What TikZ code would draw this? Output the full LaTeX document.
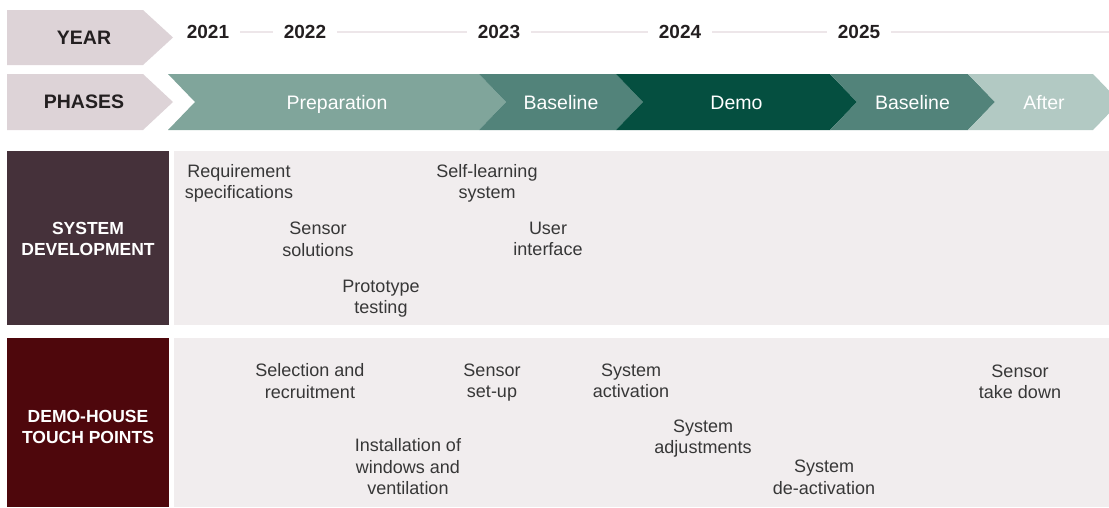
\documentclass[tikz,border=0pt]{standalone}
\usepackage{fontspec}
\setmainfont{Liberation Sans}
\usepackage{xcolor}
\usepackage{tikz}
\usetikzlibrary{positioning}
\definecolor{headgrey}{RGB}{221,211,215}
\definecolor{prepgreen}{RGB}{128,165,155}
\definecolor{basegreen}{RGB}{82,131,122}
\definecolor{demogreen}{RGB}{5,79,64}
\definecolor{aftergreen}{RGB}{178,201,195}
\definecolor{panelgrey}{RGB}{241,237,238}
\definecolor{sysbrown}{RGB}{69,49,58}
\definecolor{demored}{RGB}{78,7,12}
\definecolor{itemgrey}{RGB}{55,55,55}
\definecolor{yearblack}{RGB}{35,31,32}
\definecolor{yearline}{RGB}{237,230,233}
\begin{document}
\begin{tikzpicture}[x=1pt,y=-1pt,
    item/.style={align=center,text=itemgrey,font=\fontsize{18}{21.5}\selectfont},
    yearlbl/.style={text=yearblack,inner xsep=11pt,font=\bfseries\fontsize{19}{22}\selectfont},
    headlbl/.style={text=yearblack,font=\bfseries\fontsize{19.5}{22}\selectfont},
    phaselbl/.style={text=white,anchor=base,font=\fontsize{19.5}{22}\selectfont},
    rowlbl/.style={text=white,align=center,font=\bfseries\fontsize{17.5}{21.5}\selectfont}]
                \useasboundingbox (0,0) rectangle (1109,507);
                % Header arrows
                \fill[headgrey] (7,10) -- (143,10) -- (173,37.5) -- (143,65) -- (7,65) -- cycle;
                \fill[headgrey] (7,74) -- (143,74) -- (173,102) -- (143,130) -- (7,130) -- cycle;
                \node[headlbl] (year) at (84,38) {YEAR};
                \node[headlbl] (phases) at (84,102) {PHASES};
                % Years on the time line
                \node[yearlbl] (y2021) at (208,32) {2021};
                \node[yearlbl] (y2022) at (305,32) {2022};
                \node[yearlbl] (y2023) at (499,32) {2023};
                \node[yearlbl] (y2024) at (680,32) {2024};
                \node[yearlbl] (y2025) at (859,32) {2025};
                \coordinate (yend) at (1109,32);
                \draw[yearline, line width=1.5pt] (y2021) -- (y2022) -- (y2023) -- (y2024) -- (y2025) -- (yend);
                % Phase chevrons
                \foreach \xa/\xb/\col/\txt [count=\i] in {168/479/prepgreen/Preparation,
                    479/616/basegreen/Baseline, 616/830/demogreen/Demo,
                    830/968/basegreen/Baseline, 968/1093/aftergreen/After} {
                    \fill[\col] (\xa,74) -- (\xb,74) -- (\xb+27,102) -- (\xb,130) -- (\xa,130) -- (\xa+27,102) -- cycle;
                    \node[phaselbl] (ph\i) at ({(\xa+\xb+27)/2},109) {\txt};
                }
                % System development row
                \fill[sysbrown] (7,151) rectangle (169,325);
                \fill[panelgrey] (174,151) rectangle (1109,325);
                \node[rowlbl] (sysdev) at (88,239) {SYSTEM\\DEVELOPMENT};
                \node[item] (req) at (239,183.5) {Requirement\\specifications};
                \node[item] (sensor) at (318,239.5) {Sensor\\solutions};
                \node[item] (proto) at (381,298.5) {Prototype\\testing};
                \node[item] (selflearn) at (487,183.5) {Self-learning\\system};
                \node[item] (ui) at (548,239) {User\\interface};
                % Demo-house row
                \fill[demored] (7,338) rectangle (169,507);
                \fill[panelgrey] (174,338) rectangle (1109,507);
                \node[rowlbl] (touch) at (88,427) {DEMO-HOUSE\\TOUCH POINTS};
                \node[item] (select) at (310,381) {Selection and\\recruitment};
                \node[item] (setup) at (492,382.5) {Sensor\\set-up};
                \node[item] (install) at (408,467) {Installation of\\windows and\\ventilation};
                \node[item] (activ) at (631,381) {System\\activation};
                \node[item] (adjust) at (703,438.5) {System\\adjustments};
                \node[item] (deactiv) at (824,477.5) {System\\de-activation};
                \node[item] (takedown) at (1020,382) {Sensor\\take down};
            \end{tikzpicture}
\end{document}
